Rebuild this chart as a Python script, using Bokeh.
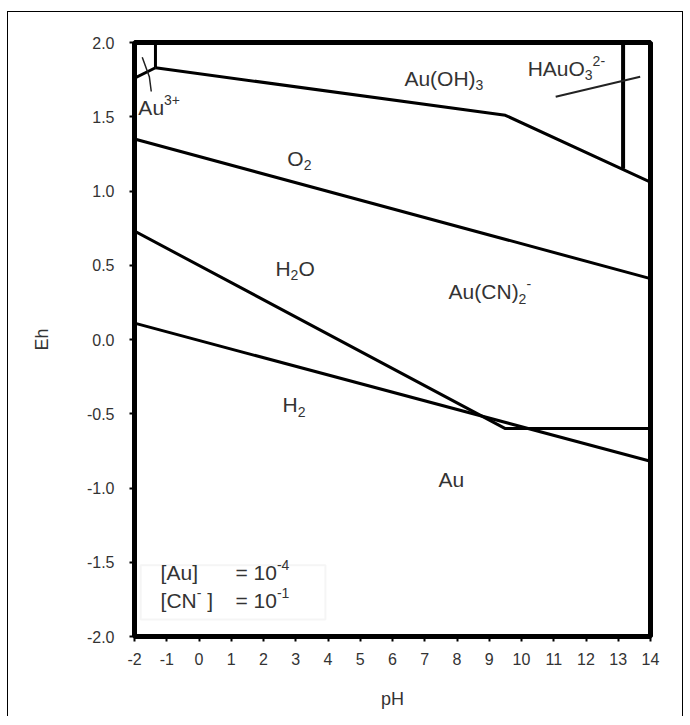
from bokeh.plotting import figure
from bokeh.models import Range1d, FixedTicker, PrintfTickFormatter, BoxAnnotation
from bokeh.core.properties import value
from bokeh.embed import file_html
from bokeh.resources import INLINE

# ---- data (pH, Eh) ----
x_ticks = [-2, -1, 0, 1, 2, 3, 4, 5, 6, 7, 8, 9, 10, 11, 12, 13, 14]
y_ticks = [-2.0, -1.5, -1.0, -0.5, 0.0, 0.5, 1.0, 1.5, 2.0]

o2_ph = [-2, 14]
o2_eh = [1.35, 0.41]
h2_ph = [-2, 14]
h2_eh = [0.11, -0.82]
aucn_ph = [-2, 9.5, 14]
aucn_eh = [0.73, -0.60, -0.60]
auoh_ph = [-1.35, 9.5, 14]
auoh_eh = [1.83, 1.51, 1.06]
au3_ph = [-2, -1.35]
au3_eh = [1.76, 1.83]
au3_vert_ph = [-1.35, -1.35]
au3_vert_eh = [2.0, 1.83]
hauo_vert_ph = [13.15, 13.15]
hauo_vert_eh = [2.0, 1.15]
au3_leader_ph = [-1.76, -1.54, -1.48]
au3_leader_eh = [1.90, 1.77, 1.67]
hauo_line_ph = [11.06, 13.68]
hauo_line_eh = [1.635, 1.77]

# region labels: list of (text, kind) parts; kind n=normal, b=subscript, p=superscript
labels = [
    ([("Au(OH)", "n"), ("3", "b")], 6.37, 1.76),
    ([("HAuO", "n"), ("3", "b"), ("2-", "p")], 10.19, 1.825),
    ([("Au", "n"), ("3+", "p")], -1.88, 1.56),
    ([("O", "n"), ("2", "b")], 2.74, 1.22),
    ([("H", "n"), ("2", "b"), ("O", "n")], 2.37, 0.48),
    ([("Au(CN)", "n"), ("2", "b"), ("-", "p")], 7.74, 0.32),
    ([("H", "n"), ("2", "b")], 2.59, -0.44),
    ([("Au", "n")], 7.43, -0.94),
]
conc_lines = [
    ([("[Au]", "n")], [("= 10", "n"), ("-4", "p")], -1.57),
    ([("[CN", "n"), ("-", "p"), ("\u00a0]", "n")], [("= 10", "n"), ("-1", "p")], -1.76),
]
conc_name_ph = -1.19
conc_eq_ph = 1.13

FONT = "Liberation Sans"
TXT = "#333333"

# Arial advance widths (per em)
AW = {"A": .667, "u": .556, "(": .333, ")": .333, "O": .778, "H": .722, "C": .722,
      "N": .722, "[": .278, "]": .278, "=": .584, " ": .278, "\u00a0": .278,
      "+": .584, "-": .333}
for d in "0123456789":
    AW[d] = .556


def tw(s, size):
    return sum(AW.get(c, .556) for c in s) * size


p = figure(width=676, height=705, output_backend="svg", toolbar_location=None,
           x_range=Range1d(-2, 14), y_range=Range1d(-2, 2),
           min_border_left=126, min_border_right=34, min_border_top=30, min_border_bottom=81)
p.styles = {"border-left": "1px solid black", "border-right": "1px solid black",
            "border-top": "1px solid black", "margin-top": "11px", "margin-left": "7px"}

p.xgrid.visible = False
p.ygrid.visible = False
p.outline_line_color = "black"
p.outline_line_width = 5

for ax in (p.xaxis[0], p.yaxis[0]):
    ax.axis_line_width = 5
    ax.axis_line_color = "black"
    ax.major_tick_line_width = 2
    ax.major_tick_line_color = "black"
    ax.major_tick_out = 5
    ax.major_tick_in = 0
    ax.minor_tick_line_color = None
    ax.major_label_text_font = FONT
    ax.major_label_text_font_size = "16px"
    ax.major_label_text_color = TXT
    ax.axis_label_text_font = FONT
    ax.axis_label_text_font_size = "18px"
    ax.axis_label_text_font_style = "normal"
    ax.axis_label_text_color = TXT

p.xaxis.ticker = FixedTicker(ticks=x_ticks)
p.yaxis.ticker = FixedTicker(ticks=y_ticks)
p.xaxis.formatter = PrintfTickFormatter(format="%d")
p.yaxis.formatter = PrintfTickFormatter(format="%.1f")
p.xaxis.axis_label = "pH"
p.yaxis.axis_label = "Eh"
p.xaxis.major_label_standoff = 11
p.yaxis.major_label_standoff = 15
p.xaxis.axis_label_standoff = 21
p.yaxis.axis_label_standoff = 32

# box behind the concentration text
p.add_layout(BoxAnnotation(left=-1.81, right=3.92, top=-1.52, bottom=-1.885,
                           fill_color="white", fill_alpha=1.0, level="underlay",
                           line_color="#dddddd", line_width=2))

thick = 3
p.line(o2_ph, o2_eh, line_color="black", line_width=thick)
p.line(h2_ph, h2_eh, line_color="black", line_width=thick)
p.line(aucn_ph, aucn_eh, line_color="black", line_width=thick)
p.line(auoh_ph, auoh_eh, line_color="black", line_width=thick)
p.line(au3_ph, au3_eh, line_color="black", line_width=thick)
p.line(au3_vert_ph, au3_vert_eh, line_color="black", line_width=thick)
p.line(hauo_vert_ph, hauo_vert_eh, line_color="black", line_width=4)
p.line(au3_leader_ph, au3_leader_eh, line_color="#222222", line_width=1.5)
p.line(hauo_line_ph, hauo_line_eh, line_color="#222222", line_width=2)


def chem(parts, x, y, size):
    small = round(size * 0.65)
    off = 0.0
    for s, kind in parts:
        if kind == "n":
            fs, dy = size, 0
        elif kind == "b":
            fs, dy = small, size * 0.32
        else:
            fs, dy = small, -size * 0.38
        p.text([x], [y], text=[s], text_font=value(FONT), text_font_size=f"{fs}px",
               text_color=TXT, text_align="left", text_baseline="middle",
               x_offset=off, y_offset=dy)
        off += tw(s, fs)


for parts, x, y in labels:
    chem(parts, x, y, 21)

for name, eq, y in conc_lines:
    chem(name, conc_name_ph, y, 21)
    chem(eq, conc_eq_ph, y, 21)

open("out.html", "w").write(file_html(p, INLINE))
